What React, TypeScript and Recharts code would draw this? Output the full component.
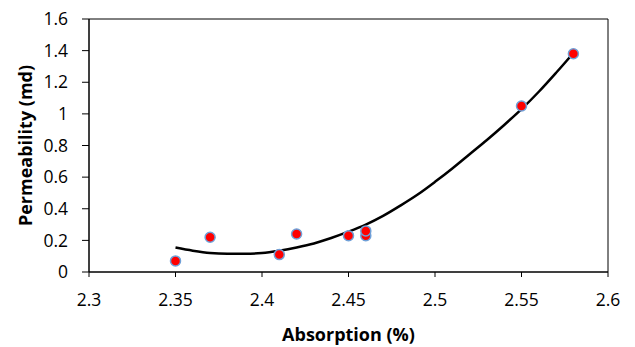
import {
  ComposedChart,
  Scatter,
  Line,
  XAxis,
  YAxis,
  ReferenceArea,
} from 'recharts';

// measured samples
const ABSORPTION = [2.35, 2.37, 2.41, 2.42, 2.45, 2.46, 2.46, 2.55, 2.58];
const PERMEABILITY = [0.07, 0.22, 0.11, 0.24, 0.23, 0.23, 0.26, 1.05, 1.38];

// trend line
const TREND_X = [
  2.35, 2.36, 2.37, 2.38, 2.39, 2.4, 2.41, 2.42, 2.43, 2.44, 2.45, 2.46,
  2.47, 2.48, 2.49, 2.5, 2.51, 2.52, 2.53, 2.54, 2.55, 2.56, 2.57, 2.58,
];
const TREND_Y = [
  0.155, 0.135, 0.12, 0.115, 0.115, 0.12, 0.135, 0.155, 0.18, 0.215, 0.255, 0.3,
  0.355, 0.42, 0.49, 0.57, 0.655, 0.745, 0.835, 0.93, 1.03, 1.14, 1.26, 1.385,
];

const X_TICKS = [2.3, 2.35, 2.4, 2.45, 2.5, 2.55, 2.6];
const Y_TICKS = [0, 0.2, 0.4, 0.6, 0.8, 1, 1.2, 1.4, 1.6];

const points = ABSORPTION.map((x, i) => ({ x, y: PERMEABILITY[i] }));
const trend = TREND_X.map((x, i) => ({ x, y: TREND_Y[i] }));

const FONT = '"Open Sans", "Noto Sans", sans-serif';
const tickStyle = { fill: '#000', fontSize: 17.5, fontFamily: FONT };
const titleStyle = { fill: '#000', fontSize: 18, fontWeight: 700, fontFamily: FONT };

export default function App() {
  // pinned to the page corner so the body margin doesn't shift it
  return (
    <div style={{ position: 'absolute', left: 0, top: 0 }}>
      <ComposedChart
        width={635}
        height={347}
        margin={{ top: 19, right: 27, bottom: 6, left: 13 }}
      >
        <XAxis
          type="number"
          dataKey="x"
          domain={[2.3, 2.6]}
          ticks={X_TICKS}
          allowDataOverflow
          stroke="#000"
          tickSize={5}
          tickMargin={17}
          tick={tickStyle}
          height={69}
          label={{
            value: 'Absorption (%)',
            position: 'insideBottom',
            offset: 0,
            style: titleStyle,
          }}
        />
        <YAxis
          type="number"
          dataKey="y"
          domain={[0, 1.6]}
          ticks={Y_TICKS}
          allowDataOverflow
          stroke="#000"
          tickSize={7}
          tickMargin={14}
          tick={tickStyle}
          width={76}
          label={{
            value: 'Permeability (md)',
            angle: -90,
            position: 'insideLeft',
            offset: 13,
            style: { ...titleStyle, textAnchor: 'middle' },
          }}
        />
        <ReferenceArea
          x1={2.3}
          x2={2.6}
          y1={0}
          y2={1.6}
          fill="none"
          fillOpacity={0}
          stroke="#000"
          strokeWidth={1}
        />
        <Scatter
          data={points}
          fill="#ff0000"
          shape={(p: any) => (
            <circle cx={p.cx} cy={p.cy} r={5} fill="#ff0000" stroke="#6fa0d8" strokeWidth={1.5} />
          )}
          isAnimationActive={false}
        />
        <Line
          data={trend}
          dataKey="y"
          type="monotone"
          stroke="#000"
          strokeWidth={2.5}
          dot={false}
          activeDot={false}
          isAnimationActive={false}
        />
      </ComposedChart>
    </div>
  );
}
